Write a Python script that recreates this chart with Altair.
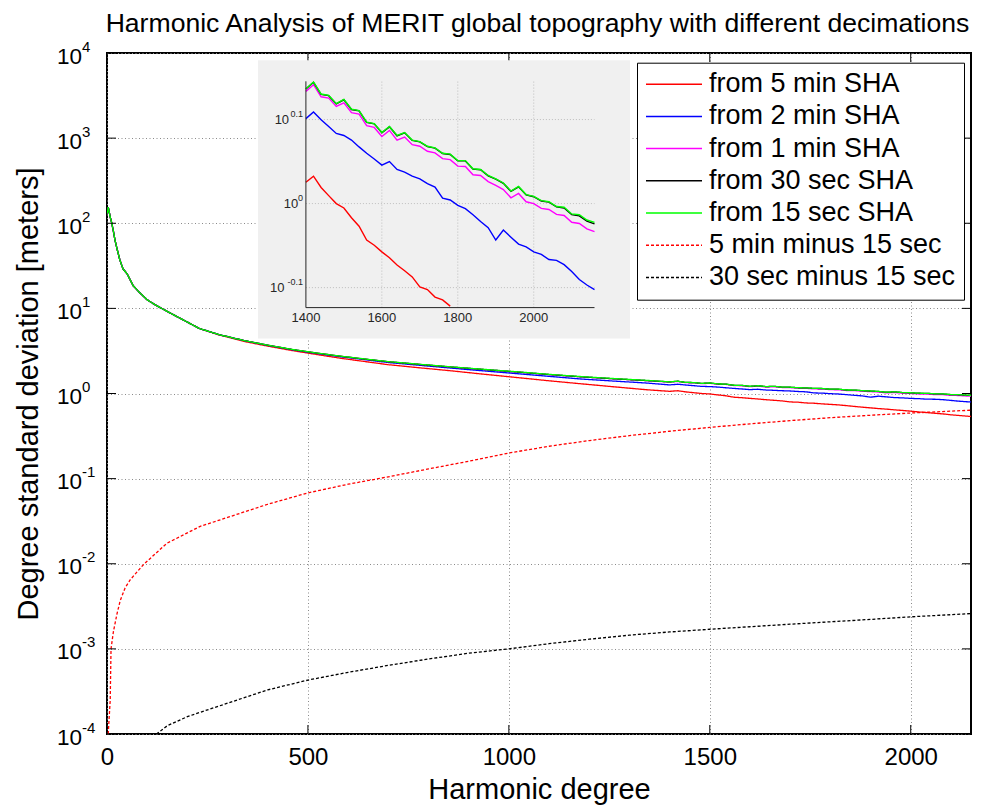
import altair as alt
import pandas as pd

FONT = "Liberation Sans, Arial, Helvetica, sans-serif"

TITLE = "Harmonic Analysis of MERIT global topography with different decimations"
SERIES = ["from 5 min SHA", "from 2 min SHA", "from 1 min SHA", "from 30 sec SHA",
          "from 15 sec SHA", "5 min minus 15 sec", "30 sec minus 15 sec"]
COLORS = ["#ff0000", "#0000ff", "#ff00ff", "#000000", "#00ff00", "#ff0000", "#000000"]
DASHES = [[1, 0], [1, 0], [1, 0], [1, 0], [1, 0], [3, 2], [3, 2]]

# degree grid for the spectra
DEG_LOW = [1, 3, 5, 8, 12, 16, 20, 25, 32, 40, 50, 65, 80, 100, 120, 150, 190, 230, 280, 340,
           400, 460, 520, 580, 640, 700, 780, 860, 940, 1020, 1100, 1180, 1260, 1340]
DEG_HIGH = [1400, 1420, 1440, 1460, 1480, 1500, 1520, 1540, 1560, 1580,
            1600, 1620, 1640, 1660, 1680, 1700, 1720, 1740, 1760, 1780,
            1800, 1820, 1840, 1860, 1880, 1900, 1920, 1940, 1960, 1980,
            2000, 2020, 2040, 2060, 2080, 2100, 2120, 2140, 2160]

GREEN_LOW = [130, 155, 140, 118, 100, 80, 63, 50, 37, 29, 25.5, 18.5, 15.5, 12.6, 11.0, 9.2, 7.3, 5.8, 4.9, 4.2,
             3.7, 3.3, 3.0, 2.75, 2.55, 2.37, 2.2, 2.05, 1.92, 1.8, 1.68, 1.58, 1.5, 1.43]
GREEN_HIGH = [1.37, 1.395, 1.35, 1.345, 1.315, 1.33, 1.295, 1.29, 1.25, 1.245,
              1.215, 1.235, 1.205, 1.215, 1.19, 1.185, 1.17, 1.165, 1.148, 1.145,
              1.125, 1.125, 1.10, 1.098, 1.08, 1.07, 1.058, 1.035, 1.048, 1.025,
              1.02, 1.008, 1.005, 0.992, 0.99, 0.972, 0.97, 0.956, 0.95]
MAGENTA_LOW = [130, 155, 140, 118, 100, 80, 63, 50, 37, 29, 25.5, 18.5, 15.5, 12.6, 11.0, 9.2, 7.3, 5.8, 4.9, 4.2,
               3.69, 3.29, 2.99, 2.74, 2.54, 2.36, 2.19, 2.04, 1.91, 1.79, 1.67, 1.57, 1.49, 1.42]
MAGENTA_HIGH = [1.36, 1.385, 1.34, 1.335, 1.305, 1.318, 1.283, 1.278, 1.238, 1.232,
                1.202, 1.222, 1.19, 1.2, 1.175, 1.17, 1.154, 1.149, 1.131, 1.128,
                1.108, 1.107, 1.082, 1.08, 1.062, 1.051, 1.039, 1.016, 1.028, 1.005,
                1.0, 0.987, 0.984, 0.971, 0.968, 0.95, 0.947, 0.933, 0.926]
BLACK_LOW = MAGENTA_LOW
BLACK_HIGH = [1.369, 1.394, 1.349, 1.344, 1.314, 1.329, 1.294, 1.289, 1.249, 1.244,
              1.214, 1.234, 1.204, 1.214, 1.189, 1.184, 1.169, 1.164, 1.147, 1.144,
              1.124, 1.124, 1.099, 1.097, 1.079, 1.069, 1.057, 1.034, 1.047, 1.024,
              1.019, 1.007, 1.004, 0.991, 0.988, 0.970, 0.967, 0.953, 0.946]
BLUE_LOW = [130, 155, 140, 118, 100, 80, 63, 50, 37, 29, 25.5, 18.5, 15.5, 12.6, 11.0, 9.2, 7.3, 5.8, 4.9, 4.2,
            3.68, 3.27, 2.96, 2.71, 2.5, 2.31, 2.14, 1.98, 1.84, 1.71, 1.59, 1.48, 1.4, 1.33]
BLUE_HIGH = [1.262, 1.285, 1.258, 1.235, 1.212, 1.205, 1.19, 1.168, 1.148, 1.13,
             1.111, 1.122, 1.098, 1.09, 1.078, 1.07, 1.056, 1.046, 1.015, 1.01,
             0.995, 0.986, 0.97, 0.952, 0.936, 0.905, 0.93, 0.912, 0.895, 0.888,
             0.876, 0.87, 0.858, 0.856, 0.846, 0.83, 0.812, 0.80, 0.79]
RED_LOW = [130, 155, 140, 118, 100, 80, 63, 50, 37, 29, 25.5, 18.5, 15.5, 12.6, 11.0, 9.2, 7.3, 5.8, 4.85, 4.1,
           3.6, 3.2, 2.88, 2.6, 2.38, 2.18, 2.0, 1.84, 1.68, 1.54, 1.41, 1.3, 1.2, 1.11]
RED_HIGH = [1.06, 1.078, 1.045, 1.022, 1.0, 0.988, 0.962, 0.94, 0.905, 0.892,
            0.876, 0.862, 0.845, 0.832, 0.818, 0.796, 0.79, 0.774, 0.768, 0.755,
            0.745, 0.735, 0.72, 0.705, 0.69, 0.678, 0.665, 0.655, 0.642, 0.632,
            0.62, 0.607, 0.597, 0.586, 0.576, 0.562, 0.552, 0.542, 0.532]

RD_DEG = [3, 8, 10, 16, 25, 33, 45, 58, 91, 149, 232, 300, 400, 500, 600, 700, 800, 900, 1000,
          1100, 1200, 1300, 1400, 1500, 1600, 1700, 1800, 1900, 2000, 2100, 2160]
RD_VAL = [1.0e-4, 2.5e-4, 1.0e-3, 1.6e-3, 2.6e-3, 3.7e-3, 5.2e-3, 6.5e-3, 9.8e-3, 0.0174, 0.0275,
          0.035, 0.05, 0.068, 0.086, 0.105, 0.13, 0.16, 0.2, 0.24, 0.28, 0.32, 0.36, 0.40, 0.44,
          0.48, 0.52, 0.555, 0.59, 0.62, 0.64]
BD_DEG = [123, 150, 200, 232, 300, 400, 500, 600, 700, 800, 900, 1000, 1100, 1200, 1300,
          1400, 1500, 1600, 1700, 1800, 1900, 2000, 2100, 2160]
BD_VAL = [1.0e-4, 1.25e-4, 1.6e-4, 1.8e-4, 2.3e-4, 3.3e-4, 4.3e-4, 5.3e-4, 6.4e-4, 7.6e-4, 8.9e-4,
          1.0e-3, 1.15e-3, 1.3e-3, 1.45e-3, 1.58e-3, 1.7e-3, 1.82e-3, 1.95e-3, 2.08e-3, 2.22e-3,
          2.38e-3, 2.52e-3, 2.62e-3]

X_TICKS = [0, 500, 1000, 1500, 2000]
Y_TICKS = [1e-4, 1e-3, 1e-2, 1e-1, 1, 10, 100, 1000, 10000]
Y_EXP = ["-4", "-3", "-2", "-1", "0", "1", "2", "3", "4"]

INSET_X_DOMAIN = [1400, 2160]
INSET_Y_DOMAIN = [0.752, 1.398]
INSET_X_TICKS = [1400, 1600, 1800, 2000]
INSET_Y_TICKS = [0.7943, 1.0, 1.2589]
INSET_Y_EXP = ["-0.1", "0", "0.1"]

# ---------------------------------------------------------------- data table
rows = []
def add(name, degs, vals):
    for d, v in zip(degs, vals):
        rows.append({"series": name, "degree": d, "value": v})

add(SERIES[0], DEG_LOW + DEG_HIGH, RED_LOW + RED_HIGH)
add(SERIES[1], DEG_LOW + DEG_HIGH, BLUE_LOW + BLUE_HIGH)
add(SERIES[2], DEG_LOW + DEG_HIGH, MAGENTA_LOW + MAGENTA_HIGH)
add(SERIES[3], DEG_LOW + DEG_HIGH, BLACK_LOW + BLACK_HIGH)
add(SERIES[4], DEG_LOW + DEG_HIGH, GREEN_LOW + GREEN_HIGH)
add(SERIES[5], RD_DEG, RD_VAL)
add(SERIES[6], BD_DEG, BD_VAL)
df = pd.DataFrame(rows)

W, H = 864, 681

x_scale = alt.Scale(domain=[0, 2150], nice=False, zero=False)
y_scale = alt.Scale(type="log", domain=[1e-4, 1e4], nice=False)
color_scale = alt.Scale(domain=SERIES, range=COLORS)
dash_scale = alt.Scale(domain=SERIES, range=DASHES)

GRID = dict(grid=True, gridColor="#8a8a8a", gridDash=[1, 2.5], gridWidth=1)
x_axis = alt.Axis(values=X_TICKS, format="d", title="Harmonic degree", ticks=False, domain=False,
                  labelFontSize=24, labelFont=FONT, labelColor="black", labelPadding=11,
                  labelFlush=False, titleFontSize=29, titleFont=FONT, titleFontWeight="normal",
                  titleColor="black", titlePadding=6, **GRID)
y_axis = alt.Axis(values=Y_TICKS, labels=False, ticks=False, domain=False,
                  title="Degree standard deviation [meters]", titleFontSize=29, titleFont=FONT,
                  titleFontWeight="normal", titleColor="black", titleX=-70, titleY=H / 2,
                  titleAngle=-90, titleAlign="center", titleBaseline="alphabetic", **GRID)

legend = alt.Legend(title=None, orient="none", legendX=530, legendY=9.7, symbolType="stroke",
                    symbolSize=3136, symbolStrokeWidth=1.5, labelFontSize=27, labelFont=FONT,
                    labelColor="black", labelOffset=6, padding=8, rowPadding=4.2, clipHeight=27,
                    strokeColor="black", fillColor="white", cornerRadius=0, labelLimit=0)

X = alt.X("degree:Q", scale=x_scale, axis=x_axis)
Y = alt.Y("value:Q", scale=y_scale, axis=y_axis)
C = alt.Color("series:N", scale=color_scale, legend=legend)
D = alt.StrokeDash("series:N", scale=dash_scale, legend=legend)

main_layers = []
for name in SERIES:
    main_layers.append(
        alt.Chart(df).transform_filter(alt.datum.series == name)
        .mark_line(strokeWidth=1.3, clip=True)
        .encode(x=X, y=Y, color=C, strokeDash=D)
    )

xt = pd.DataFrame({"degree": X_TICKS})
yt = pd.DataFrame({"value": Y_TICKS, "base": ["10"] * len(Y_TICKS), "exp": Y_EXP})
main_layers += [
    alt.Chart(xt).mark_rule(color="black", strokeWidth=1).encode(x=X, y=alt.value(H), y2=alt.value(H - 9)),
    alt.Chart(xt).mark_rule(color="black", strokeWidth=1).encode(x=X, y=alt.value(0), y2=alt.value(9)),
    alt.Chart(yt).mark_rule(color="black", strokeWidth=1).encode(y=Y, x=alt.value(0), x2=alt.value(9)),
    alt.Chart(yt).mark_rule(color="black", strokeWidth=1).encode(y=Y, x=alt.value(W), x2=alt.value(W - 9)),
    alt.Chart(yt).mark_text(align="right", baseline="middle", fontSize=22.5, font=FONT, color="black", dy=3.5)
    .encode(y=Y, x=alt.value(-25), text="base:N"),
    alt.Chart(yt).mark_text(align="left", baseline="middle", fontSize=15, font=FONT, color="black", dy=-6.5)
    .encode(y=Y, x=alt.value(-25), text="exp:N"),
    alt.Chart(pd.DataFrame({"t": [TITLE]})).mark_text(
        align="center", baseline="alphabetic", fontSize=26.6, font=FONT, color="black")
    .encode(x=alt.value(W / 2 - 1.5), y=alt.value(-21), text="t:N"),
]
main = alt.layer(*main_layers)

# ---------------------------------------------------------------- inset
ix = alt.Scale(domain=INSET_X_DOMAIN, range=[198.9, 487.5], nice=False, zero=False)
iy = alt.Scale(type="log", domain=INSET_Y_DOMAIN, range=[254.6, 28.3], nice=False)
IX = alt.X("degree:Q", scale=ix, axis=None)
IY = alt.Y("value:Q", scale=iy, axis=None)

inset_layers = [
    alt.Chart(pd.DataFrame({"a": [0]})).mark_rect(color="#f0f0f0")
    .encode(x=alt.value(151), x2=alt.value(523), y=alt.value(7.3), y2=alt.value(285.6)),
    alt.Chart(pd.DataFrame({"degree": INSET_X_TICKS[1:]})).mark_rule(color="#bdbdbd", strokeDash=[1, 2])
    .encode(x=IX, y=alt.YDatum(INSET_Y_DOMAIN[0], scale=iy, axis=None), y2=alt.Y2Datum(INSET_Y_DOMAIN[1])),
    alt.Chart(pd.DataFrame({"value": INSET_Y_TICKS})).mark_rule(color="#bdbdbd", strokeDash=[1, 2])
    .encode(y=IY, x=alt.XDatum(INSET_X_DOMAIN[0], scale=ix, axis=None), x2=alt.X2Datum(INSET_X_DOMAIN[1])),
]
for name in SERIES[:5]:
    inset_layers.append(
        alt.Chart(df).transform_filter(
            (alt.datum.series == name) & (alt.datum.degree >= INSET_X_DOMAIN[0])
            & (alt.datum.value >= INSET_Y_DOMAIN[0]) & (alt.datum.value <= INSET_Y_DOMAIN[1]))
        .mark_line(strokeWidth=1.4)
        .encode(x=IX, y=IY, color=C)
    )
inset_layers += [
    alt.Chart(pd.DataFrame({"a": [0]})).mark_rule(color="#262626", strokeWidth=1)
    .encode(x=alt.XDatum(INSET_X_DOMAIN[0], scale=ix, axis=None),
            y=alt.YDatum(INSET_Y_DOMAIN[0], scale=iy, axis=None), y2=alt.Y2Datum(INSET_Y_DOMAIN[1])),
    alt.Chart(pd.DataFrame({"a": [0]})).mark_rule(color="#262626", strokeWidth=1)
    .encode(x=alt.XDatum(INSET_X_DOMAIN[0], scale=ix, axis=None), x2=alt.X2Datum(INSET_X_DOMAIN[1]),
            y=alt.YDatum(INSET_Y_DOMAIN[0], scale=iy, axis=None)),
    alt.Chart(pd.DataFrame({"degree": INSET_X_TICKS})).mark_text(
        fontSize=13, font=FONT, color="#262626", baseline="middle", dy=10)
    .encode(x=IX, y=alt.YDatum(INSET_Y_DOMAIN[0], scale=iy, axis=None), text=alt.Text("degree:Q", format="d")),
]
for v, e in zip(INSET_Y_TICKS, INSET_Y_EXP):
    w = 4.6 * len(e)
    tdf = pd.DataFrame({"value": [v], "base": ["10"], "exp": [e]})
    inset_layers += [
        alt.Chart(tdf).mark_text(align="right", baseline="middle", fontSize=13, font=FONT,
                                 color="#262626", dx=-3 - w)
        .encode(y=IY, x=alt.XDatum(INSET_X_DOMAIN[0], scale=ix, axis=None), text="base:N"),
        alt.Chart(tdf).mark_text(align="right", baseline="middle", fontSize=9, font=FONT,
                                 color="#262626", dx=-3, dy=-6)
        .encode(y=IY, x=alt.XDatum(INSET_X_DOMAIN[0], scale=ix, axis=None), text="exp:N"),
    ]
inset = alt.layer(*inset_layers)

chart = (
    alt.layer(main, inset)
    .resolve_scale(x="independent", y="independent")
    .properties(
        width=W, height=H,
        autosize=alt.AutoSizeParams(type="none"),
        padding={"left": 107, "top": 53, "right": 16, "bottom": 74},
        background="white",
    )
    .configure_view(stroke="black", strokeWidth=2)
)

chart.save("out.html", embed_options={"renderer": "svg", "actions": False})
